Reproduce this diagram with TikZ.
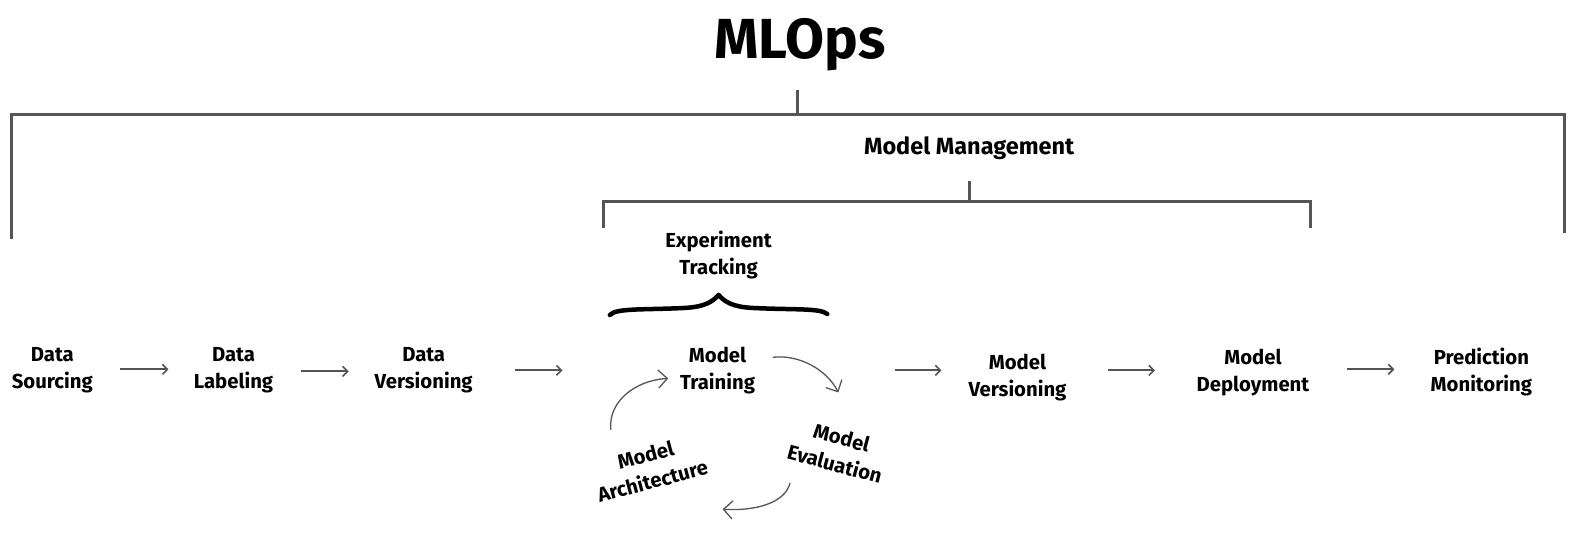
\documentclass[tikz,border=0pt]{standalone}
\usepackage{fontspec}
\setmainfont{Fira Sans}
\usetikzlibrary{arrows.meta}
\definecolor{linegray}{HTML}{555555}
\begin{document}
\begin{tikzpicture}[x=1.0064pt,y=-1.0064pt,
  lbl/.style={font=\fontsize{20.3}{27}\selectfont\bfseries, align=center, text=black, inner sep=0pt},
  bracket/.style={draw=linegray, line width=3pt},
  flow/.style={draw=linegray, line width=2pt, -{Straight Barb[length=5pt,width=10pt,line width=1.6pt]}},
  loop/.style={draw=linegray, line width=1.3pt, -{Straight Barb[length=9pt,width=18pt,line width=1.3pt]}}]
\useasboundingbox (0,0) rectangle (1568,549);
% title
\node[font=\fontsize{56.5}{64}\selectfont\bfseries, inner sep=0pt] (title) at (795,44) {MLOps};
% top bracket
\coordinate (tl) at (11,114); \coordinate (tr) at (1555,114);
\coordinate (tc) at (792,114); \coordinate (tt) at (792,89);
\coordinate (tlb) at (11,237); \coordinate (trb) at (1555,232);
\draw[bracket] (tlb) -- (tl) -- (tr) -- (trb);
\draw[bracket] (tt) -- (tc);
% model management
\node[font=\fontsize{23.5}{28}\selectfont\bfseries, inner sep=0pt] (mm) at (963,147) {Model Management};
\coordinate (ml) at (600,200); \coordinate (mr) at (1302,200);
\coordinate (mc) at (963,200); \coordinate (mt) at (963,180);
\coordinate (mlb) at (600,227); \coordinate (mrb) at (1302,227);
\draw[bracket] (mlb) -- (ml) -- (mr) -- (mrb);
\draw[bracket] (mt) -- (mc);
% experiment tracking
\node[lbl] (et) at (714,253) {Experiment\\Tracking};
\coordinate (bl) at (606,313); \coordinate (btip) at (714,293); \coordinate (br) at (822,312);
\draw[line width=4.5pt, line cap=round, line join=round] (bl) .. controls (612,306) and (640,308) .. (680,306)
  .. controls (700,305) and (708,300) .. (btip)
  .. controls (720,300) and (728,305) .. (748,306)
  .. controls (790,308) and (815,306) .. (br);
% flow nodes
\node[lbl] (ds) at (52,368) {Data\\Sourcing};
\node[lbl] (dl) at (232,368) {Data\\Labeling};
\node[lbl] (dv) at (421,368) {Data\\Versioning};
\node[lbl] (mtr) at (713,368) {Model\\Training};
\node[lbl] (mv) at (1011,375) {Model\\Versioning};
\node[lbl] (md) at (1245,370) {Model\\Deployment};
\node[lbl] (pm) at (1472,370) {Prediction\\Monitoring};
\node[lbl, rotate=15] (ma) at (645,465) {Model\\Architecture};
\node[lbl, rotate=-15] (me) at (833,448) {Model\\Evaluation};
% flow arrows
\draw[flow, shorten <=68pt, shorten >=65pt] (ds.center |- 0,367) -- (dl.center |- 0,367);
\draw[flow, shorten <=68pt, shorten >=75pt] (dl.center |- 0,369) -- (dv.center |- 0,369);
\draw[flow, shorten <=91pt, shorten >=155pt] (dv.center |- 0,368) -- (mtr.center |- 0,368);
\draw[flow, shorten <=177pt, shorten >=76pt] (mtr.center |- 0,368) -- (mv.center |- 0,368);
\draw[flow, shorten <=91pt, shorten >=98pt] (mv.center |- 0,368) -- (md.center |- 0,368);
\draw[flow, shorten <=94pt, shorten >=87pt] (md.center |- 0,367) -- (pm.center |- 0,367);
% loop arrows
\coordinate (l1s) at (768,355); \coordinate (l1e) at (833,390);
\coordinate (l2s) at (607,427); \coordinate (l2e) at (664,376);
\coordinate (l3s) at (785,480); \coordinate (l3e) at (718,506);
\draw[loop] (l1s) .. controls (795,352) and (822,368) .. (l1e);
\draw[loop] (l2s) .. controls (604,400) and (630,378) .. (l2e);
\draw[loop] (l3s) .. controls (780,500) and (750,508) .. (l3e);
\end{tikzpicture}
\end{document}
